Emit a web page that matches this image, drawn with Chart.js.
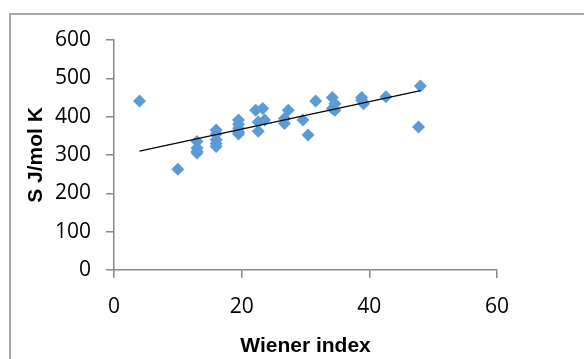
<!DOCTYPE html>
<html>
<head>
<meta charset="utf-8">
<script src="https://cdn.jsdelivr.net/npm/chart.js@4/dist/chart.umd.min.js"></script>
<style>
  html, body { margin: 0; padding: 0; background: #fff; }
  #wrap { position: relative; width: 584px; height: 359px; overflow: hidden; }
  #frame { position: absolute; left: 9px; top: 13px; width: 700px; height: 500px;
           border-left: 2px solid #a6a6a6; border-top: 2px solid #a6a6a6; box-sizing: border-box; }
  canvas { position: absolute; left: 0; top: 0; }
</style>
</head>
<body>
<div id="wrap">
  <div id="frame"></div>
  <canvas id="c" width="584" height="359"></canvas>
</div>
<script>
// Data
const wienerIndex = [4, 10, 13, 13, 13, 13, 16, 16, 16, 16, 16, 19.5, 19.5, 19.5, 19.5, 19.5,
  22.2, 23.3, 22.6, 22.6, 23.6, 26.7, 26.7, 27.3, 29.6, 30.4, 31.6, 34.2, 34.6, 34.6, 34.2,
  38.8, 39.1, 38.8, 42.6, 48, 47.7];
const entropy = [441, 263, 335, 318, 310, 305, 365, 355, 340, 330, 322, 391, 380, 370, 360, 355,
  417, 421, 386, 362, 391, 382, 395, 417, 391, 352, 441, 450, 417, 434, 421,
  450, 434, 443, 452, 480, 373];
// Trendline end points
const trendX = [4, 48];
const trendY = [310, 468];
const xTicks = [0, 20, 40, 60];
const yTicks = [0, 100, 200, 300, 400, 500, 600];
const xTitle = 'Wiener index';
const yTitle = 'S J/mol K';

const points = wienerIndex.map((x, i) => ({ x: x, y: entropy[i] }));
const trend = trendX.map((x, i) => ({ x: x, y: trendY[i] }));

const axisColor = '#868686';
const tickFont = { family: 'Open Sans', size: 21 };
const titleFont = { family: 'Liberation Sans', size: 21, weight: 'bold' };

new Chart(document.getElementById('c'), {
  type: 'scatter',
  data: {
    datasets: [
      {
        data: points,
        pointStyle: 'rectRot',
        pointRadius: 6.5,
        pointHoverRadius: 6.5,
        backgroundColor: '#5b9bd5',
        borderColor: '#5b9bd5',
        borderWidth: 0,
        order: 2
      },
      {
        type: 'line',
        data: trend,
        borderColor: '#000000',
        borderWidth: 1.3,
        pointRadius: 0,
        fill: false,
        order: 1
      }
    ]
  },
  options: {
    responsive: false,
    animation: false,
    devicePixelRatio: 1,
    layout: { padding: { left: 0, right: 87, top: 40, bottom: 0 } },
    plugins: { legend: { display: false }, tooltip: { enabled: false } },
    scales: {
      x: {
        type: 'linear',
        min: 0, max: 60,
        afterBuildTicks: (s) => { s.ticks = xTicks.map(v => ({ value: v })); },
        afterFit: (s) => { s.paddingLeft = 0; s.paddingRight = 0; s.height = 89; },
        ticks: { color: '#000', font: tickFont, padding: 16, maxRotation: 0 },
        grid: { drawOnChartArea: false, drawTicks: true, tickLength: 8, color: axisColor, lineWidth: 1.5 },
        border: { color: axisColor, width: 1.5 },
        title: { display: true, text: xTitle, color: '#000', font: titleFont, padding: { top: 0, bottom: 0 } }
      },
      y: {
        type: 'linear',
        min: 0, max: 600,
        afterBuildTicks: (s) => { s.ticks = yTicks.map(v => ({ value: v })); },
        afterFit: (s) => { s.paddingTop = 0; s.paddingBottom = 0; s.width = 114; },
        ticks: { color: '#000', font: tickFont, padding: 15 },
        grid: { drawOnChartArea: false, drawTicks: true, tickLength: 8, color: axisColor, lineWidth: 1.5 },
        border: { color: axisColor, width: 1.5 },
        title: { display: true, text: yTitle, color: '#000', font: titleFont, padding: { top: 24, bottom: 0 } }
      }
    }
  }
});
</script>
</body>
</html>
